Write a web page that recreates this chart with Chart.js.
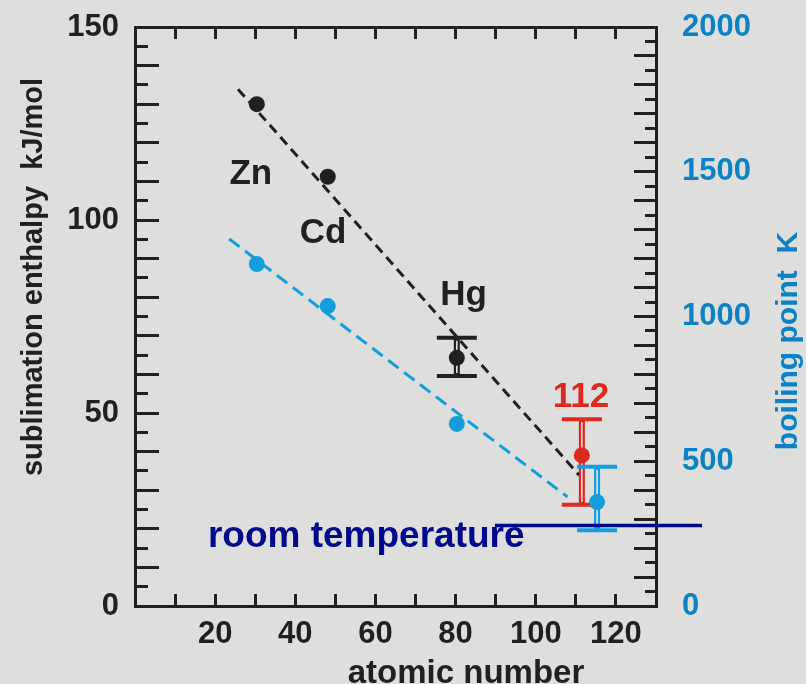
<!DOCTYPE html>
<html>
<head>
<meta charset="utf-8">
<script src="https://cdn.jsdelivr.net/npm/chart.js@4.4.0/dist/chart.umd.min.js"></script>
<style>
  body { margin: 0; background: #dededc; }
  canvas { display: block; }
</style>
</head>
<body>
<canvas id="chart_groups" width="806" height="684"></canvas>
<script>
// group 12 elements: Zn, Cd, Hg
const elements = ['Zn', 'Cd', 'Hg']
const atomicNumber = [30.4, 48.1, 80.3]
const sublimation = [130, 111.2, 64.3]      // kJ/mol
const boilingPoint = [1181, 1036, 629]      // K
const hgSublRange = [59.6, 69.5]

// element 112
const e112Z = 111.5
const e112Subl = 39
const e112SublRange = [26.2, 48.4]
const e112BpZ = 115.3
const e112Bp = 359
const e112BpRange = [262, 481]

// dashed trend lines
const sublFitZ = [25.7, 110.8]
const sublFit = [133.9, 33.9]
const bpFitZ = [23.5, 107.9]
const bpFit = [1268, 377]

// room temperature marker
const roomTempZ = [89.8, 141.5]
const roomTemp = 278

// tick labels
const xTickLabels = [20, 40, 60, 80, 100, 120]
const leftTickLabels = [0, 50, 100, 150]
const rightTickLabels = [0, 500, 1000, 1500, 2000]

const FONT = '"Liberation Sans", Arial, sans-serif'
const INK = '#231f20'
const BLUE = '#129ddc'
const BLUE_TEXT = '#0b82c6'
const RED = '#dd2a20'
const NAVY = '#00088e'

Chart.defaults.font.family = FONT
Chart.defaults.font.weight = 'bold'

function pts(xs, ys) {
    return xs.map((x, i) => ({ x: x, y: ys[i] }))
}

// fixed box sizes, and no extra room for the end labels
function fixSize(w, h) {
    return function (s) {
        if (s.isHorizontal()) { s.height = h } else { s.width = w }
        s.paddingTop = 0
        s.paddingBottom = 0
        s.paddingLeft = 0
        s.paddingRight = 0
    }
}

function majorAxis(min, max, step, labels, pos, tick, pad, color, size) {
    return {
        type: 'linear', position: pos, min: min, max: max, weight: 1,
        ticks: {
            stepSize: step, autoSkip: false, maxRotation: 0, padding: pad,
            color: color, font: { size: 31, weight: 'bold' },
            callback: (v) => labels.includes(v) ? String(v) : ''
        },
        grid: { drawOnChartArea: false, drawTicks: true, tickLength: tick, tickWidth: 3, tickColor: INK },
        border: { display: true, color: INK, width: 3 },
        afterFit: size
    }
}

function minorAxis(min, max, step, pos, tick) {
    return {
        type: 'linear', position: pos, min: min, max: max, weight: 0,
        ticks: { stepSize: step, display: false, autoSkip: false },
        grid: { drawOnChartArea: false, drawTicks: true, tickLength: tick, tickWidth: 3, tickColor: INK },
        border: { display: pos === 'top', color: INK, width: 3 },
        afterFit: fixSize(0, 0)
    }
}

// error bars with light core in the stem
function errorBar(ctx, xs, ys, z, range, color) {
    const px = xs.getPixelForValue(z)
    const lo = ys.getPixelForValue(range[0])
    const hi = ys.getPixelForValue(range[1])
    ctx.save()
    ctx.strokeStyle = color
    ctx.lineWidth = 6
    ctx.beginPath(); ctx.moveTo(px, lo); ctx.lineTo(px, hi); ctx.stroke()
    ctx.strokeStyle = '#eeeeee'
    ctx.lineWidth = 1.5
    ctx.beginPath(); ctx.moveTo(px, lo - 3); ctx.lineTo(px, hi + 3); ctx.stroke()
    ctx.strokeStyle = color
    ctx.lineWidth = 4
    ctx.beginPath()
    ctx.moveTo(px - 20, lo); ctx.lineTo(px + 20, lo)
    ctx.moveTo(px - 20, hi); ctx.lineTo(px + 20, hi)
    ctx.stroke()
    ctx.restore()
}

const errorBarPlugin = {
    id: 'errorBars',
    beforeDatasetsDraw(chart) {
        const ctx = chart.ctx
        const s = chart.scales
        errorBar(ctx, s.x, s.y, atomicNumber[2], hgSublRange, INK)
        errorBar(ctx, s.x, s.y, e112Z, e112SublRange, RED)
        errorBar(ctx, s.x, s.y2, e112BpZ, e112BpRange, BLUE)
    }
}

// text labels, placed in data units (x: atomic number, y: kJ/mol)
const notes = [
    { text: 'Zn', x: 28.9, y: 109.3, color: INK, size: 35, align: 'center' },
    { text: 'Cd', x: 46.9, y: 94.0, color: INK, size: 35, align: 'center' },
    { text: 'Hg', x: 82.0, y: 78.0, color: INK, size: 35, align: 'center' },
    { text: '112', x: 111.3, y: 51.5, color: RED, size: 35, align: 'center' },
    { text: 'room temperature', x: 18.2, y: 15.3, color: NAVY, size: 37, align: 'left' }
]

const textPlugin = {
    id: 'texts',
    afterDraw(chart) {
        const ctx = chart.ctx
        const s = chart.scales
        ctx.save()
        ctx.textBaseline = 'alphabetic'
        notes.forEach((n) => {
            ctx.font = 'bold ' + n.size + 'px ' + FONT
            ctx.fillStyle = n.color
            ctx.textAlign = n.align
            ctx.fillText(n.text, s.x.getPixelForValue(n.x), s.y.getPixelForValue(n.y))
        })

        // axis titles
        ctx.fillStyle = INK
        ctx.textAlign = 'center'
        ctx.font = 'bold 33px ' + FONT
        ctx.fillText('atomic number', 466, 683)

        ctx.font = 'bold 29px ' + FONT
        ctx.translate(42, 277)
        ctx.rotate(-Math.PI / 2)
        ctx.fillText('sublimation enthalpy  kJ/mol', 0, 0)
        ctx.rotate(Math.PI / 2)
        ctx.translate(-42, -277)

        ctx.fillStyle = BLUE_TEXT
        ctx.font = 'bold 30px ' + FONT
        ctx.translate(797, 341)
        ctx.rotate(-Math.PI / 2)
        ctx.fillText('boiling point  K', 0, 0)
        ctx.restore()
    }
}

const chart_groups = new Chart(document.getElementById('chart_groups'), {
    type: 'scatter',
    data: {
        datasets: [
            {
                data: pts(sublFitZ, sublFit), yAxisID: 'y', showLine: true,
                borderColor: INK, borderWidth: 3, borderDash: [10, 6], pointRadius: 0
            },
            {
                data: pts(bpFitZ, bpFit), yAxisID: 'y2', showLine: true,
                borderColor: BLUE, borderWidth: 3, borderDash: [13, 7], pointRadius: 0
            },
            {
                data: pts(roomTempZ, [roomTemp, roomTemp]), yAxisID: 'y2', showLine: true,
                borderColor: NAVY, borderWidth: 3.5, pointRadius: 0, clip: false
            },
            {
                data: pts(atomicNumber, sublimation), yAxisID: 'y',
                backgroundColor: INK, borderWidth: 0, pointRadius: 8
            },
            {
                data: pts(atomicNumber.concat([e112BpZ]), boilingPoint.concat([e112Bp])), yAxisID: 'y2',
                backgroundColor: BLUE, borderWidth: 0, pointRadius: 8
            },
            {
                data: [{ x: e112Z, y: e112Subl }], yAxisID: 'y',
                backgroundColor: RED, borderWidth: 0, pointRadius: 8
            }
        ]
    },
    options: {
        responsive: false,
        animation: false,
        devicePixelRatio: 1,
        layout: { padding: { top: 27, left: 0, right: 0, bottom: 0 } },
        plugins: { legend: { display: false }, tooltip: { enabled: false } },
        scales: {
            x: majorAxis(0, 130, 10, xTickLabels, 'bottom', -12, 22, INK, fixSize(0, 78)),
            x2: minorAxis(0, 130, 10, 'top', -12),
            y: majorAxis(0, 150, 10, leftTickLabels, 'left', -24, 40, INK, fixSize(135, 0)),
            yMinor: minorAxis(0, 150, 5, 'left', -13),
            y2: majorAxis(0, 2000, 100, rightTickLabels, 'right', -22, 48, BLUE_TEXT, fixSize(150, 0)),
            y2Minor: minorAxis(0, 2000, 50, 'right', -11)
        }
    },
    plugins: [errorBarPlugin, textPlugin]
})
</script>
</body>
</html>
